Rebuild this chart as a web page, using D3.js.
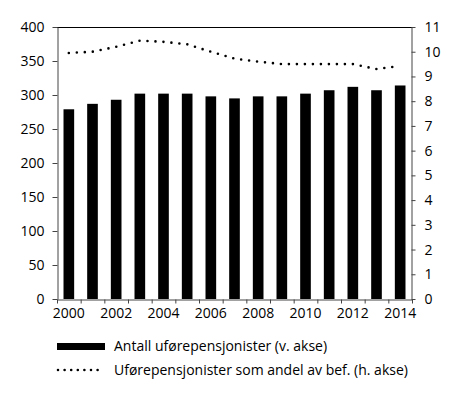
<!DOCTYPE html>
<html>
<head>
<meta charset="utf-8">
<script src="https://cdn.jsdelivr.net/npm/d3@7"></script>
<style>
body{margin:0;background:#fff;}
svg text{font-family:"Open Sans",sans-serif;font-size:14px;fill:#000;}
</style>
</head>
<body>
<svg id="chart" width="460" height="396"></svg>
<script>
var years = [2000,2001,2002,2003,2004,2005,2006,2007,2008,2009,2010,2011,2012,2013,2014];
var antall = [279,287,293,302,302,302,298,295,298,298,302,307,312,307,314];//v. akse
var andel = [9.95,10.0,10.2,10.45,10.4,10.3,10.0,9.72,9.6,9.5,9.5,9.5,9.5,9.3,9.42];//h. akse
var leftTicks = [0,50,100,150,200,250,300,350,400];
var rightTicks = [0,1,2,3,4,5,6,7,8,9,10,11];
var yearLabels = [2000,2002,2004,2006,2008,2010,2012,2014];
var legendText = ["Antall uførepensjonister (v. akse)","Uførepensjonister som andel av bef. (h. akse)"];

var svg = d3.select("#chart");
var L = 57, R = 412, T = 27, B = 299;

var x = d3.scaleBand().domain(years).range([L,R]).paddingInner(0.55).paddingOuter(0.275);
var xb = d3.scaleLinear().domain([0,years.length]).range([L,R]);//tick positions between bars
var yL = d3.scaleLinear().domain([0,400]).range([B,T]);
var yR = d3.scaleLinear().domain([0,11]).range([B,T]);

//bars
svg.selectAll("rect.bar")
  .data(antall)
  .enter()
  .append("rect")
  .attr("class","bar")
  .attr("x",function(d,i){ return x(years[i]); })
  .attr("width",x.bandwidth())
  .attr("y",function(d){ return yL(d); })
  .attr("height",function(d){ return B - yL(d); })
  .attr("fill","#000");

//dotted line
var line = d3.line()
  .x(function(d,i){ return x(years[i]) + x.bandwidth()/2; })
  .y(function(d){ return yR(d); });
svg.append("path")
  .attr("d",line(andel))
  .attr("fill","none")
  .attr("stroke","#000")
  .attr("stroke-width",2.6)
  .attr("stroke-linecap","round")
  .attr("stroke-dasharray","0 8");

//top border
svg.append("line").attr("x1",L).attr("x2",R).attr("y1",T+0.5).attr("y2",T+0.5)
  .attr("stroke","#000").attr("stroke-width",1);

//left axis
var gL = svg.append("g").attr("transform","translate("+(L+0.5)+",0)")
  .call(d3.axisLeft(yL).tickValues(leftTicks).tickSize(5).tickPadding(8).tickSizeOuter(0));
//right axis
var gR = svg.append("g").attr("transform","translate("+(R-0.5)+",0)")
  .call(d3.axisRight(yR).tickValues(rightTicks).tickSize(4).tickPadding(9).tickSizeOuter(0));
//bottom axis
var gB = svg.append("g").attr("transform","translate(0,"+(B+0.5)+")")
  .call(d3.axisBottom(xb).tickValues(d3.range(0,years.length+1)).tickSize(4).tickFormat("").tickSizeOuter(0));
svg.selectAll("text.year")
  .data(yearLabels)
  .enter()
  .append("text")
  .attr("class","year")
  .attr("x",function(d){ return x(d) + x.bandwidth()/2; })
  .attr("y",B+19)
  .attr("text-anchor","middle")
  .text(function(d){ return d; });

[gL,gR,gB].forEach(function(g){
  g.selectAll(".domain").attr("stroke","#444");
  g.selectAll(".tick line").attr("stroke","#444");
  g.selectAll("text").style("font-family","'Open Sans',sans-serif").style("font-size","14px").attr("fill","#000");
});

//legend
svg.append("rect").attr("x",57).attr("y",343).attr("width",48).attr("height",7).attr("fill","#000");
svg.append("path").attr("d","M58,370H98")
  .attr("stroke","#000").attr("stroke-width",2.6).attr("stroke-linecap","round").attr("stroke-dasharray","0 6.6");
svg.selectAll("text.leg")
  .data(legendText)
  .enter()
  .append("text")
  .attr("class","leg")
  .attr("x",114)
  .attr("y",function(d,i){ return 351 + i*24; })
  .text(function(d){ return d; });
</script>
</body>
</html>
